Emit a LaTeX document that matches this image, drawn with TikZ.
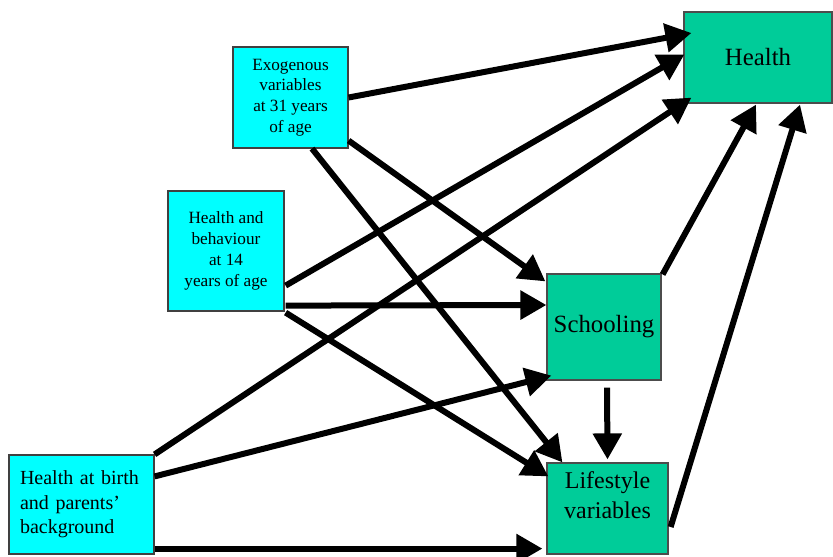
\documentclass[tikz,border=0pt]{standalone}
\usepackage{fontspec}
\setmainfont{Liberation Serif}
\usepackage{xcolor}
\usetikzlibrary{arrows.meta, calc}
\definecolor{boxcyan}{RGB}{0, 255, 255}
\definecolor{boxgreen}{RGB}{0, 204, 153}

\begin{document}
\begin{tikzpicture}[
  x=0.5pt, y=-0.5pt,
  cause/.style={rectangle, draw=black!75, fill=boxcyan, line width=0.6pt,
                align=center, inner sep=0pt,
                font=\fontsize{8.6}{10.4}\selectfont},
  outcome/.style={rectangle, draw=black!70, fill=boxgreen, line width=0.6pt,
                  align=center, inner sep=0pt,
                  font=\fontsize{12.4}{15}\selectfont},
  link/.style={-{Triangle[length=13pt, width=14pt]}, line width=3pt},
]
  \useasboundingbox (0,0) rectangle (833,556);

  % ── Explanatory boxes ──────────────────────────────────────────────────────
  \node[cause, minimum width=57.5pt, minimum height=50.5pt] (exo) at (290.5, 97.5)
    {Exogenous\\variables\\at 31 years\\of age};
  \node[cause, minimum width=58pt, minimum height=60pt] (hb) at (226, 251)
    {Health and\\behaviour\\at 14\\years of age};
  \node[cause, minimum width=72.5pt, minimum height=49.5pt, text width=61.5pt,
        align=left, font=\fontsize{10}{12.25}\selectfont] (birth) at (81.5, 504.5)
    {Health at birth\\and parents'\\background};

  % ── Outcome boxes ──────────────────────────────────────────────────────────
  \node[outcome, minimum width=57pt, minimum height=53pt] (school) at (604, 327)
    {Schooling};
  \node[outcome, minimum width=60.5pt, minimum height=45.5pt] (life) at (607.5, 508.5) {};
  \node[align=center, font=\fontsize{12}{15}\selectfont] (lifetext)
    at ($(life.center)+(0,-13)$) {Lifestyle\\variables};
  \node[outcome, minimum width=74pt, minimum height=45.5pt] (health) at (758, 57.5)
    {Health};

  % ── Arrows into health ─────────────────────────────────────────────────────
  \draw[link] (exo.east) -- ($(health.west)+(8,-24.5)$);
  \draw[link] ($(hb.south east)+(1,-26)$) -- ($(health.west)+(1,-3)$);
  \draw[link] (birth.north east) -- ($(health.south west)+(8,-6)$);
  \draw[link] ($(school.north east)+(1,1)$) -- ($(health.south)+(-2,1)$);
  \draw[link] ($(life.east)+(2,18.5)$) -- ($(health.south)+(42,1)$);

  % ── Arrows into schooling ──────────────────────────────────────────────────
  \draw[link] ($(exo.south east)+(0,-8)$) -- ($(school.north west)+(-1,8)$);
  \draw[link] ($(hb.south east)+(1,-6)$) -- ($(school.west)+(0,-22)$);
  \draw[link] ($(birth.north east)+(0,22)$) -- ($(school.south west)+(5,-5)$);

  % ── Arrows into lifestyle ──────────────────────────────────────────────────
  \draw[link] ($(exo.south)+(21.5,0)$) -- ($(life.north west)+(16,0)$);
  \draw[link] ($(hb.south east)+(1,1)$) -- ($(life.north west)+(2,14)$);
  \draw[link] ($(birth.south east)+(0,-6)$) -- ($(life.south west)+(-4,-6)$);
  \draw[link] ($(school.south)+(3,7)$) -- ($(life.north)+(0,-3)$);
\end{tikzpicture}
\end{document}
